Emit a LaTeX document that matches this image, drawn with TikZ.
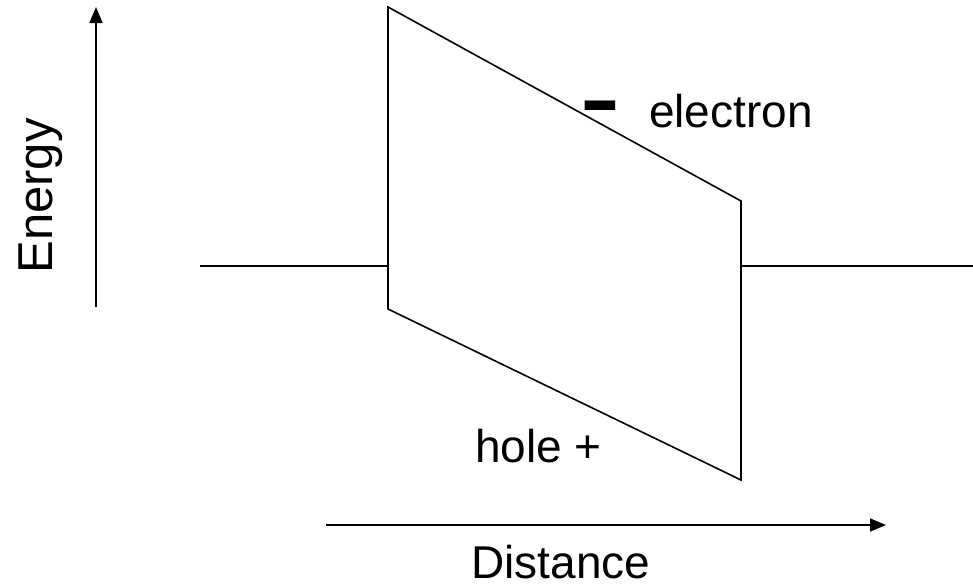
\documentclass[tikz,border=0pt]{standalone}
\usepackage{fontspec}
\setmainfont{Liberation Sans}
\usetikzlibrary{arrows.meta}
\tikzset{
  band/.style={line width=1.6pt, line join=miter},
  axis/.style={line width=1.6pt, -{Triangle[length=16pt,width=13pt]}},
  lbl/.style={inner sep=0pt, font=\fontsize{46}{54}\selectfont},
}
\begin{document}
\begin{tikzpicture}[x=1pt,y=-1pt]
\useasboundingbox (0,0) rectangle (973,587);
% band corners
\coordinate (tl) at (388,7);
\coordinate (bl) at (388,309);
\coordinate (tr) at (741,201);
\coordinate (br) at (741,480);
\coordinate (ml) at (388,266);
\coordinate (mr) at (741,266);
\coordinate (lend) at (200,266);
\coordinate (rend) at (973,266);
\draw[band] (tl) -- (tr) -- (br) -- (bl) -- cycle;
\draw[band] (lend) -- (ml);
\draw[band] (mr) -- (rend);
% axes
\coordinate (e0) at (96,307);
\coordinate (e1) at (96,7);
\draw[axis] (e0) -- (e1);
\coordinate (d0) at (326,525);
\coordinate (d1) at (886,525);
\draw[axis] (d0) -- (d1);
% labels
\node[lbl, anchor=base, rotate=90, font=\fontsize{49}{56}\selectfont] (energy) at (52,196) {Energy};
\node[lbl, anchor=base] (distance) at (561,578) {Distance};
\node[lbl, anchor=base west] (electron) at (649,127) {electron};
\node[lbl, anchor=base west] (hole) at (475,462) {hole +};
\node[inner sep=0pt, anchor=base, xscale=1.5, font=\fontsize{80}{90}\selectfont\bfseries] (minus) at (600,126) {-};
\end{tikzpicture}
\end{document}
